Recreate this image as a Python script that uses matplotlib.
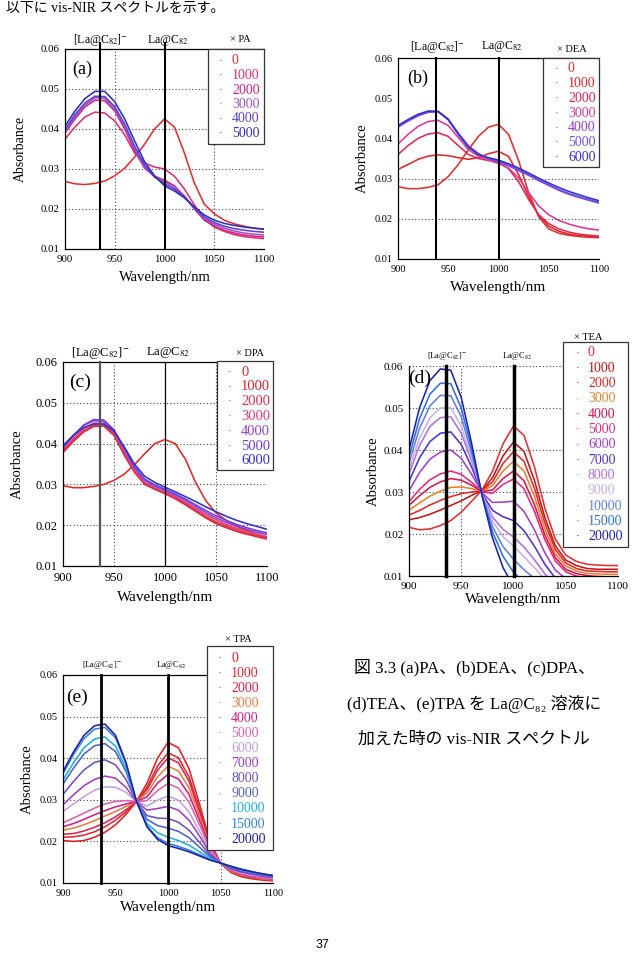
import matplotlib
matplotlib.use("Agg")
import matplotlib.pyplot as plt
from matplotlib.patches import Rectangle

plt.rcParams['font.family'] = ['Liberation Serif', 'DejaVu Serif', 'Noto Sans CJK JP']
plt.rcParams['mathtext.fontset'] = 'stix'

W, H = 644, 957

# wavelength grid shared by every spectrum [=] nm
wavelength = [900, 910, 920, 930, 940, 950, 960, 970, 980, 990, 1000,
              1010, 1020, 1030, 1040, 1050, 1060, 1070, 1080, 1090, 1100]

# (a) PA
conc_a = ['0', '1000', '2000', '3000', '4000', '5000']
colors_a = ['#e03030', '#e03070', '#d8207a', '#a050cc', '#6040cc', '#2830bc']
a_0 = [0.0269, 0.0263, 0.0261, 0.0264, 0.0270, 0.0283, 0.0302, 0.0330, 0.0362, 0.0400, 0.0425, 0.0405, 0.0340, 0.0265, 0.0212, 0.0188, 0.0172, 0.0163, 0.0157, 0.0152, 0.0149]
a_1000 = [0.0375, 0.0405, 0.0430, 0.0442, 0.0440, 0.0420, 0.0385, 0.0340, 0.0315, 0.0305, 0.0300, 0.0282, 0.0250, 0.0210, 0.0175, 0.0155, 0.0144, 0.0136, 0.0131, 0.0128, 0.0126]
a_2000 = [0.0390, 0.0425, 0.0455, 0.0472, 0.0471, 0.0445, 0.0400, 0.0345, 0.0302, 0.0282, 0.0272, 0.0258, 0.0232, 0.0200, 0.0172, 0.0157, 0.0147, 0.0140, 0.0135, 0.0132, 0.0130]
a_3000 = [0.0393, 0.0430, 0.0460, 0.0478, 0.0477, 0.0450, 0.0405, 0.0350, 0.0305, 0.0280, 0.0268, 0.0255, 0.0232, 0.0202, 0.0176, 0.0162, 0.0152, 0.0145, 0.0140, 0.0137, 0.0135]
a_4000 = [0.0398, 0.0436, 0.0465, 0.0482, 0.0481, 0.0456, 0.0412, 0.0357, 0.0310, 0.0280, 0.0263, 0.0250, 0.0230, 0.0203, 0.0180, 0.0166, 0.0157, 0.0151, 0.0147, 0.0144, 0.0142]
a_5000 = [0.0407, 0.0445, 0.0476, 0.0494, 0.0494, 0.0468, 0.0425, 0.0370, 0.0318, 0.0283, 0.0258, 0.0245, 0.0228, 0.0205, 0.0185, 0.0172, 0.0164, 0.0159, 0.0155, 0.0152, 0.0150]

# (b) DEA
conc_b = ['0', '1000', '2000', '3000', '4000', '5000', '6000']
colors_b = ['#e03030', '#e02828', '#e02858', '#e03890', '#9040d0', '#7050e0', '#3030d0']
b_0 = [0.0280, 0.0275, 0.0275, 0.0278, 0.0285, 0.0305, 0.0335, 0.0372, 0.0405, 0.0428, 0.0435, 0.0410, 0.0345, 0.0265, 0.0205, 0.0175, 0.0164, 0.0159, 0.0156, 0.0154, 0.0153]
b_1000 = [0.0323, 0.0335, 0.0348, 0.0356, 0.0359, 0.0357, 0.0352, 0.0348, 0.0352, 0.0362, 0.0368, 0.0355, 0.0310, 0.0255, 0.0208, 0.0182, 0.0169, 0.0162, 0.0158, 0.0156, 0.0155]
b_2000 = [0.0360, 0.0382, 0.0400, 0.0411, 0.0414, 0.0405, 0.0382, 0.0360, 0.0350, 0.0345, 0.0340, 0.0325, 0.0292, 0.0248, 0.0210, 0.0188, 0.0175, 0.0167, 0.0162, 0.0159, 0.0157]
b_3000 = [0.0386, 0.0410, 0.0430, 0.0442, 0.0445, 0.0432, 0.0402, 0.0372, 0.0356, 0.0346, 0.0338, 0.0326, 0.0302, 0.0265, 0.0232, 0.0210, 0.0196, 0.0187, 0.0180, 0.0175, 0.0172]
b_4000 = [0.0428, 0.0443, 0.0456, 0.0465, 0.0466, 0.0448, 0.0413, 0.0382, 0.0362, 0.0350, 0.0342, 0.0332, 0.0320, 0.0308, 0.0295, 0.0283, 0.0271, 0.0261, 0.0253, 0.0246, 0.0239]
b_5000 = [0.0430, 0.0445, 0.0458, 0.0467, 0.0467, 0.0448, 0.0412, 0.0380, 0.0361, 0.0350, 0.0343, 0.0333, 0.0322, 0.0310, 0.0297, 0.0285, 0.0273, 0.0263, 0.0255, 0.0248, 0.0241]
b_6000 = [0.0432, 0.0447, 0.0460, 0.0468, 0.0467, 0.0446, 0.0410, 0.0378, 0.0360, 0.0352, 0.0346, 0.0337, 0.0326, 0.0314, 0.0301, 0.0289, 0.0278, 0.0268, 0.0260, 0.0252, 0.0245]

# (c) DPA
conc_c = ['0', '1000', '2000', '3000', '4000', '5000', '6000']
colors_c = ['#e02828', '#e02030', '#e03050', '#e04070', '#9040d0', '#7040e0', '#3030d0']
c_0 = [0.0297, 0.0292, 0.0292, 0.0295, 0.0300, 0.0310, 0.0325, 0.0348, 0.0375, 0.0400, 0.0410, 0.0400, 0.0362, 0.0305, 0.0260, 0.0230, 0.0212, 0.0198, 0.0187, 0.0178, 0.0170]
c_1000 = [0.0378, 0.0405, 0.0428, 0.0442, 0.0443, 0.0420, 0.0372, 0.0330, 0.0300, 0.0288, 0.0277, 0.0265, 0.0250, 0.0234, 0.0218, 0.0204, 0.0194, 0.0185, 0.0178, 0.0172, 0.0166]
c_2000 = [0.0382, 0.0408, 0.0431, 0.0445, 0.0446, 0.0423, 0.0375, 0.0332, 0.0302, 0.0290, 0.0279, 0.0267, 0.0253, 0.0237, 0.0221, 0.0208, 0.0198, 0.0189, 0.0181, 0.0175, 0.0169]
c_3000 = [0.0385, 0.0412, 0.0436, 0.0450, 0.0450, 0.0427, 0.0380, 0.0336, 0.0305, 0.0292, 0.0281, 0.0270, 0.0256, 0.0241, 0.0226, 0.0213, 0.0202, 0.0193, 0.0185, 0.0178, 0.0172]
c_4000 = [0.0390, 0.0418, 0.0445, 0.0459, 0.0458, 0.0434, 0.0387, 0.0342, 0.0310, 0.0296, 0.0285, 0.0274, 0.0261, 0.0246, 0.0231, 0.0218, 0.0207, 0.0198, 0.0190, 0.0183, 0.0177]
c_5000 = [0.0392, 0.0420, 0.0444, 0.0456, 0.0455, 0.0432, 0.0388, 0.0344, 0.0313, 0.0299, 0.0288, 0.0277, 0.0264, 0.0250, 0.0236, 0.0223, 0.0212, 0.0202, 0.0194, 0.0187, 0.0181]
c_6000 = [0.0395, 0.0420, 0.0439, 0.0448, 0.0448, 0.0431, 0.0392, 0.0350, 0.0320, 0.0305, 0.0293, 0.0282, 0.0270, 0.0258, 0.0245, 0.0233, 0.0222, 0.0212, 0.0204, 0.0197, 0.0190]

# (d) TEA
conc_d = ['0', '1000', '2000', '3000', '4000', '5000', '6000', '7000', '8000', '9000', '10000', '15000', '20000']
colors_d = ['#e03030', '#c01818', '#e02a2a', '#e88030', '#d81850', '#e82878', '#a040c8',
            '#5030c8', '#b070e0', '#c8b0e8', '#6080e8', '#3070e0', '#2020b0']
d_0 = [0.0216, 0.0210, 0.0212, 0.0220, 0.0232, 0.0252, 0.0278, 0.0305, 0.0350, 0.0415, 0.0457, 0.0435, 0.0360, 0.0262, 0.0188, 0.0150, 0.0135, 0.0128, 0.0126, 0.0125, 0.0125]
d_1000 = [0.0234, 0.0239, 0.0247, 0.0257, 0.0268, 0.0279, 0.0292, 0.0304, 0.0334, 0.0386, 0.0419, 0.0397, 0.0328, 0.0239, 0.0172, 0.0138, 0.0125, 0.0118, 0.0116, 0.0116, 0.0116]
d_2000 = [0.0245, 0.0256, 0.0269, 0.0280, 0.0289, 0.0296, 0.0300, 0.0303, 0.0324, 0.0368, 0.0396, 0.0373, 0.0309, 0.0226, 0.0163, 0.0131, 0.0118, 0.0112, 0.0111, 0.0110, 0.0110]
d_3000 = [0.0257, 0.0274, 0.0290, 0.0302, 0.0311, 0.0312, 0.0308, 0.0302, 0.0315, 0.0350, 0.0373, 0.0350, 0.0290, 0.0212, 0.0153, 0.0124, 0.0112, 0.0106, 0.0105, 0.0104, 0.0104]
d_4000 = [0.0268, 0.0291, 0.0311, 0.0324, 0.0332, 0.0328, 0.0316, 0.0301, 0.0305, 0.0332, 0.0350, 0.0327, 0.0270, 0.0198, 0.0144, 0.0116, 0.0106, 0.0101, 0.0099, 0.0098, 0.0098]
d_5000 = [0.0277, 0.0306, 0.0329, 0.0343, 0.0350, 0.0342, 0.0323, 0.0300, 0.0297, 0.0318, 0.0331, 0.0308, 0.0254, 0.0187, 0.0136, 0.0110, 0.0100, 0.0096, 0.0094, 0.0094, 0.0094]
d_6000 = [0.0303, 0.0346, 0.0378, 0.0395, 0.0400, 0.0380, 0.0342, 0.0298, 0.0275, 0.0276, 0.0278, 0.0254, 0.0210, 0.0155, 0.0114, 0.0094, 0.0086, 0.0082, 0.0081, 0.0080, 0.0080]
d_7000 = [0.0325, 0.0381, 0.0420, 0.0440, 0.0443, 0.0413, 0.0359, 0.0296, 0.0256, 0.0241, 0.0232, 0.0208, 0.0171, 0.0128, 0.0095, 0.0079, 0.0073, 0.0070, 0.0069, 0.0069, 0.0069]
d_8000 = [0.0343, 0.0410, 0.0456, 0.0477, 0.0479, 0.0440, 0.0373, 0.0295, 0.0240, 0.0211, 0.0193, 0.0169, 0.0139, 0.0105, 0.0079, 0.0067, 0.0063, 0.0060, 0.0060, 0.0060, 0.0060]
d_9000 = [0.0354, 0.0428, 0.0477, 0.0500, 0.0501, 0.0457, 0.0381, 0.0294, 0.0230, 0.0194, 0.0171, 0.0146, 0.0120, 0.0092, 0.0070, 0.0060, 0.0056, 0.0055, 0.0055, 0.0055, 0.0055]
d_10000 = [0.0369, 0.0451, 0.0505, 0.0530, 0.0529, 0.0479, 0.0392, 0.0293, 0.0217, 0.0170, 0.0140, 0.0115, 0.0094, 0.0074, 0.0057, 0.0050, 0.0045, 0.0045, 0.0045, 0.0045, 0.0045]
d_15000 = [0.0383, 0.0474, 0.0533, 0.0559, 0.0558, 0.0500, 0.0403, 0.0291, 0.0204, 0.0147, 0.0109, 0.0085, 0.0069, 0.0055, 0.0044, 0.0040, 0.0038, 0.0037, 0.0037, 0.0036, 0.0036]
d_20000 = [0.0400, 0.0500, 0.0565, 0.0593, 0.0590, 0.0525, 0.0415, 0.0290, 0.0190, 0.0120, 0.0075, 0.0050, 0.0040, 0.0035, 0.0030, 0.0030, 0.0030, 0.0030, 0.0030, 0.0030, 0.0030]

# (e) TPA
conc_e = ['0', '1000', '2000', '3000', '4000', '5000', '6000', '7000', '8000', '9000', '10000', '15000', '20000']
colors_e = ['#e02020', '#e02838', '#d82850', '#e88040', '#d02080', '#e060b0', '#c0a0e0',
            '#a040c0', '#7050c0', '#5060d0', '#20b0e0', '#3080e0', '#2020a0']
e_0 = [0.0202, 0.0200, 0.0202, 0.0210, 0.0222, 0.0240, 0.0265, 0.0296, 0.0340, 0.0400, 0.0438, 0.0425, 0.0375, 0.0290, 0.0200, 0.0148, 0.0125, 0.0115, 0.0110, 0.0107, 0.0105]
e_1000 = [0.0210, 0.0211, 0.0215, 0.0223, 0.0235, 0.0251, 0.0271, 0.0296, 0.0330, 0.0381, 0.0413, 0.0401, 0.0355, 0.0278, 0.0196, 0.0148, 0.0127, 0.0117, 0.0112, 0.0109, 0.0106]
e_2000 = [0.0217, 0.0219, 0.0225, 0.0234, 0.0245, 0.0259, 0.0276, 0.0296, 0.0324, 0.0371, 0.0401, 0.0389, 0.0345, 0.0271, 0.0193, 0.0148, 0.0127, 0.0118, 0.0113, 0.0109, 0.0107]
e_3000 = [0.0227, 0.0232, 0.0240, 0.0250, 0.0261, 0.0272, 0.0284, 0.0296, 0.0316, 0.0355, 0.0381, 0.0369, 0.0329, 0.0261, 0.0190, 0.0148, 0.0128, 0.0119, 0.0114, 0.0110, 0.0108]
e_4000 = [0.0235, 0.0243, 0.0253, 0.0264, 0.0274, 0.0283, 0.0290, 0.0296, 0.0307, 0.0340, 0.0361, 0.0350, 0.0313, 0.0251, 0.0186, 0.0148, 0.0130, 0.0121, 0.0115, 0.0112, 0.0109]
e_5000 = [0.0245, 0.0256, 0.0268, 0.0280, 0.0290, 0.0296, 0.0298, 0.0296, 0.0298, 0.0322, 0.0339, 0.0328, 0.0295, 0.0240, 0.0182, 0.0148, 0.0131, 0.0122, 0.0117, 0.0113, 0.0110]
e_6000 = [0.0272, 0.0290, 0.0308, 0.0323, 0.0331, 0.0330, 0.0318, 0.0296, 0.0285, 0.0299, 0.0309, 0.0299, 0.0271, 0.0225, 0.0177, 0.0148, 0.0133, 0.0124, 0.0119, 0.0115, 0.0112]
e_7000 = [0.0288, 0.0312, 0.0334, 0.0349, 0.0357, 0.0352, 0.0330, 0.0296, 0.0275, 0.0279, 0.0284, 0.0275, 0.0251, 0.0213, 0.0172, 0.0148, 0.0134, 0.0126, 0.0121, 0.0116, 0.0113]
e_8000 = [0.0313, 0.0344, 0.0372, 0.0390, 0.0396, 0.0384, 0.0349, 0.0296, 0.0262, 0.0256, 0.0255, 0.0246, 0.0227, 0.0198, 0.0167, 0.0148, 0.0136, 0.0128, 0.0123, 0.0118, 0.0115]
e_9000 = [0.0338, 0.0376, 0.0410, 0.0430, 0.0435, 0.0416, 0.0368, 0.0296, 0.0253, 0.0238, 0.0232, 0.0224, 0.0209, 0.0186, 0.0163, 0.0148, 0.0138, 0.0130, 0.0124, 0.0120, 0.0116]
e_10000 = [0.0348, 0.0389, 0.0425, 0.0446, 0.0451, 0.0429, 0.0375, 0.0296, 0.0243, 0.0221, 0.0210, 0.0202, 0.0191, 0.0175, 0.0159, 0.0148, 0.0139, 0.0132, 0.0126, 0.0121, 0.0117]
e_15000 = [0.0363, 0.0409, 0.0447, 0.0470, 0.0474, 0.0449, 0.0386, 0.0296, 0.0237, 0.0209, 0.0195, 0.0188, 0.0179, 0.0168, 0.0156, 0.0148, 0.0140, 0.0133, 0.0127, 0.0122, 0.0118]
e_20000 = [0.0368, 0.0415, 0.0455, 0.0478, 0.0482, 0.0455, 0.0390, 0.0296, 0.0235, 0.0205, 0.0190, 0.0183, 0.0175, 0.0165, 0.0155, 0.0148, 0.0140, 0.0133, 0.0127, 0.0122, 0.0118]

x_ticks = [900, 950, 1000, 1050, 1100]
y_ticks = [0.01, 0.02, 0.03, 0.04, 0.05, 0.06]
anion_label = r'[La@C$_{82}$]$^{-}$'
neutral_label = r'La@C$_{82}$'


def fx(x):
    return x / W


def fy(y):
    return 1 - y / H


fig = plt.figure(figsize=(W / 100, H / 100), dpi=100)
fig.patch.set_facecolor('white')


def panel(box, series, conc, colors, amine, letter, ref_x, lay):
    l, t, r, b = box
    ax = fig.add_axes([fx(l), fy(b), (r - l) / W, (b - t) / H])
    for s, c in zip(series, colors):
        ax.plot(wavelength, s, color=c, lw=1.15)
    ax.set_xlim(900, 1100)
    ax.set_ylim(0.01, 0.06)
    ax.set_xticks(x_ticks)
    ax.set_yticks(y_ticks)
    ax.set_yticklabels([f'{v:.2f}' for v in y_ticks])
    ax.tick_params(length=0, labelsize=lay['tick_fs'], pad=lay.get('pad', 4))
    ax.spines['right'].set_visible(False)
    ax.spines['top'].set_visible(lay.get('top', True))
    for sp in ax.spines.values():
        sp.set_linewidth(0.9)

    # dotted grid only where the original has it
    for gx in lay['grid_x']:
        ax.axvline(gx, color='#444444', lw=0.8, ls=(0, (1, 2)), zorder=0.5)
    for gy in lay['grid_y']:
        ax.axhline(gy, color='#444444', lw=0.8, ls=(0, (1, 2)), zorder=0.5)

    # reference lines for the anion and neutral species
    lws = lay['ref_lw']
    ax.axvline(ref_x, ymin=0, ymax=lay['ref_top'], color=lay.get('ref_col', 'black'),
               lw=lws[0], clip_on=False, zorder=3)
    ax.axvline(1000, ymin=0, ymax=lay['ref_top'], color='black', lw=lws[1],
               clip_on=False, zorder=3)
    ty = 1 + lay['ref_gap'] / (b - t)
    ax.text(ref_x + 1, ty, anion_label, transform=ax.get_xaxis_transform(),
            ha='center', va='center', fontsize=lay['ref_fs'])
    ax.text(1003, ty, neutral_label, transform=ax.get_xaxis_transform(),
            ha='center', va='center', fontsize=lay['ref_fs'])

    ax.set_xlabel('Wavelength/nm', fontsize=lay['lab_fs'])
    ax.set_ylabel('Absorbance', fontsize=lay['lab_fs'] - 0.5)
    ax.xaxis.label.set_va('center')
    ax.yaxis.label.set_va('center')
    ax.xaxis.set_label_coords(0.5, (b - lay['xlab_y']) / (b - t))
    ax.yaxis.set_label_coords((lay['ylab_x'] - l) / (r - l), 0.5)

    fig.text(fx(lay['letter'][0]), fy(lay['letter'][1]), f'({letter})',
             fontsize=lay['letter_fs'], ha='center', va='center', zorder=6)

    # legend box drawn by hand: title sits outside, above the frame
    x0, y0, x1, y1 = lay['leg']
    fig.add_artist(Rectangle((fx(x0), fy(y1)), (x1 - x0) / W, (y1 - y0) / H,
                             transform=fig.transFigure, facecolor='white',
                             edgecolor='#333333', lw=0.9, zorder=5))
    fig.text(fx(lay['title'][0]), fy(lay['title'][1]), '× ' + amine,
             fontsize=7.5, ha='center', va='center', zorder=6)
    for i, (lab, c) in enumerate(zip(conc, colors)):
        yy = lay['row0'] + i * lay['row_dy']
        fig.text(fx(lay['dot_x']), fy(yy), '·', color=c, fontsize=8,
                 ha='center', va='center', zorder=6)
        fig.text(fx(lay['txt_x']), fy(yy), lab, color=c, fontsize=lay['leg_fs'],
                 ha='left', va='center', zorder=6)
    return ax


panel((65, 49, 264, 249), [a_0, a_1000, a_2000, a_3000, a_4000, a_5000],
      conc_a, colors_a, 'PA', 'a', 935,
      dict(tick_fs=7.8, lab_fs=10.5, grid_x=[950, 1050], grid_y=[0.02, 0.03, 0.04, 0.05],
           ref_lw=(1.5, 1.5), ref_top=1.03, ref_gap=9, ref_fs=8.5,
           xlab_y=278, ylab_x=20, letter=(82, 69), letter_fs=13,
           leg=(208, 49, 264, 144), title=(240, 40), row0=61, row_dy=14.5,
           dot_x=221, txt_x=232, leg_fs=10))

panel((398, 58, 599, 259), [b_0, b_1000, b_2000, b_3000, b_4000, b_5000, b_6000],
      conc_b, colors_b, 'DEA', 'b', 938,
      dict(tick_fs=7.5, lab_fs=11, grid_x=[], grid_y=[0.02, 0.03],
           ref_lw=(1.5, 1.5), ref_top=1.0, ref_gap=11, ref_fs=8.5,
           xlab_y=287, ylab_x=362, letter=(418, 78), letter_fs=13,
           leg=(543, 58, 599, 167), title=(572, 49), row0=69, row_dy=14.7,
           dot_x=557, txt_x=568, leg_fs=10))

panel((63, 362, 267, 566), [c_0, c_1000, c_2000, c_3000, c_4000, c_5000, c_6000],
      conc_c, colors_c, 'DPA', 'c', 936,
      dict(tick_fs=9, lab_fs=11, grid_x=[950, 1050], grid_y=[0.02, 0.03, 0.04, 0.05],
           ref_lw=(1.6, 0.9), ref_col='#555555', ref_top=1.0, ref_gap=9, ref_fs=9,
           xlab_y=597, ylab_x=17, letter=(80, 382), letter_fs=14,
           leg=(217, 361, 273, 470), title=(250, 354), row0=372, row_dy=14.8,
           dot_x=230, txt_x=241, leg_fs=10.5))

panel((409, 366, 618, 576), [d_0, d_1000, d_2000, d_3000, d_4000, d_5000, d_6000,
                             d_7000, d_8000, d_9000, d_10000, d_15000, d_20000],
      conc_d, colors_d, 'TEA', 'd', 935,
      dict(tick_fs=8, lab_fs=11, grid_x=[950], grid_y=[0.02, 0.03, 0.04, 0.05, 0.06],
           top=False, ref_lw=(2.5, 2.5), ref_top=1.0, ref_gap=10, ref_fs=6,
           xlab_y=600, ylab_x=373, letter=(420, 378), letter_fs=14,
           leg=(563, 342, 628, 547), title=(588, 337), row0=353, row_dy=15.3,
           dot_x=578, txt_x=588, leg_fs=10))

panel((63, 675, 273, 883), [e_0, e_1000, e_2000, e_3000, e_4000, e_5000, e_6000,
                            e_7000, e_8000, e_9000, e_10000, e_15000, e_20000],
      conc_e, colors_e, 'TPA', 'e', 936,
      dict(tick_fs=7.5, lab_fs=11, grid_x=[1050], grid_y=[0.02, 0.03, 0.04, 0.05],
           ref_lw=(2.0, 2.0), ref_top=1.0, ref_gap=10, ref_fs=6,
           xlab_y=907, ylab_x=27, letter=(77, 697), letter_fs=14,
           leg=(207, 646, 273, 850), title=(238, 639), row0=658, row_dy=15.1,
           dot_x=220, txt_x=231, leg_fs=10))

# page text around the figure
fig.text(fx(6), fy(8), '以下に vis-NIR スペクトルを示す。', fontsize=10,
         ha='left', va='center')
caption = ['図 3.3 (a)PA、(b)DEA、(c)DPA、',
           '(d)TEA、(e)TPA を La@C₈₂ 溶液に',
           '加えた時の vis-NIR スペクトル']
for i, line in enumerate(caption):
    fig.text(fx(474), fy(668 + i * 36), line, fontsize=12.2, ha='center', va='center')
fig.text(fx(323), fy(945), '37', fontsize=9, ha='center', va='center',
         family='Liberation Sans')

fig.savefig('out.png', dpi=100)
